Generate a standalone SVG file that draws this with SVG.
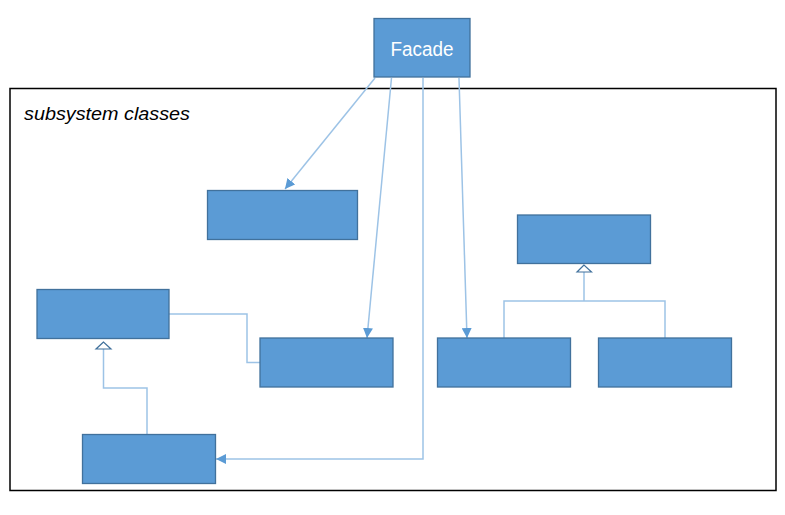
<svg xmlns="http://www.w3.org/2000/svg" width="785" height="515" viewBox="0 0 785 515">
<style>
.cls{fill:#5B9BD5;stroke:#41719C;stroke-width:1.3}
.ln{fill:none;stroke:#9DC3E6;stroke-width:1.5}
.gen{fill:#ffffff;stroke:#41719C;stroke-width:1.2}
</style>
<defs>
<marker id="arr" viewBox="0 0 10 10" refX="10" refY="5" markerWidth="10" markerHeight="10" markerUnits="userSpaceOnUse" orient="auto">
<path d="M0,0 L10,5 L0,10 z" fill="#5B9BD5"/>
</marker>
</defs>
<rect width="785" height="515" fill="#ffffff"/>
<g id="frame">
<rect x="10" y="88.5" width="766" height="402" fill="none" stroke="#000000" stroke-width="1.5"/>
<text x="24" y="120" font-family="Liberation Sans, Arial, sans-serif" font-style="italic" font-size="19" textLength="166" lengthAdjust="spacingAndGlyphs" fill="#000000">subsystem classes</text>
</g>
<g id="connectors">
<line class="ln" x1="375" y1="78" x2="285" y2="189" marker-end="url(#arr)"/>
<line class="ln" x1="391.5" y1="78" x2="367" y2="338" marker-end="url(#arr)"/>
<polyline class="ln" points="423,78 423,459 216,459" marker-end="url(#arr)"/>
<line class="ln" x1="459" y1="78" x2="467" y2="338" marker-end="url(#arr)"/>
<polyline class="ln" points="169,314 247,314 247,362.5 260,362.5"/>
<polyline class="ln" points="103.5,349 103.5,388 147,388 147,434"/>
<polyline class="ln" points="584,272 584,301"/>
<polyline class="ln" points="504,338 504,301 665,301 665,338"/>
<polygon class="gen" points="103.5,342 96,349 111,349"/>
<polygon class="gen" points="584,265 577,272 591.5,272"/>
</g>
<g id="facade">
<rect class="cls" x="374" y="18.5" width="96" height="58.5"/>
<text x="422" y="56" text-anchor="middle" font-family="Liberation Sans, Arial, sans-serif" font-size="20" textLength="63" lengthAdjust="spacingAndGlyphs" fill="#ffffff">Facade</text>
</g>
<g id="classA"><rect class="cls" x="37" y="289.5" width="132" height="49"/></g>
<g id="classB"><rect class="cls" x="82.5" y="434.5" width="133" height="49"/></g>
<g id="classC"><rect class="cls" x="260" y="338" width="133" height="49"/></g>
<g id="classD"><rect class="cls" x="207.5" y="190.5" width="150" height="49"/></g>
<g id="classE"><rect class="cls" x="517.5" y="215" width="133" height="48.5"/></g>
<g id="classF"><rect class="cls" x="437.5" y="338" width="133" height="49"/></g>
<g id="classG"><rect class="cls" x="598.5" y="338" width="133" height="49"/></g>
</svg>
